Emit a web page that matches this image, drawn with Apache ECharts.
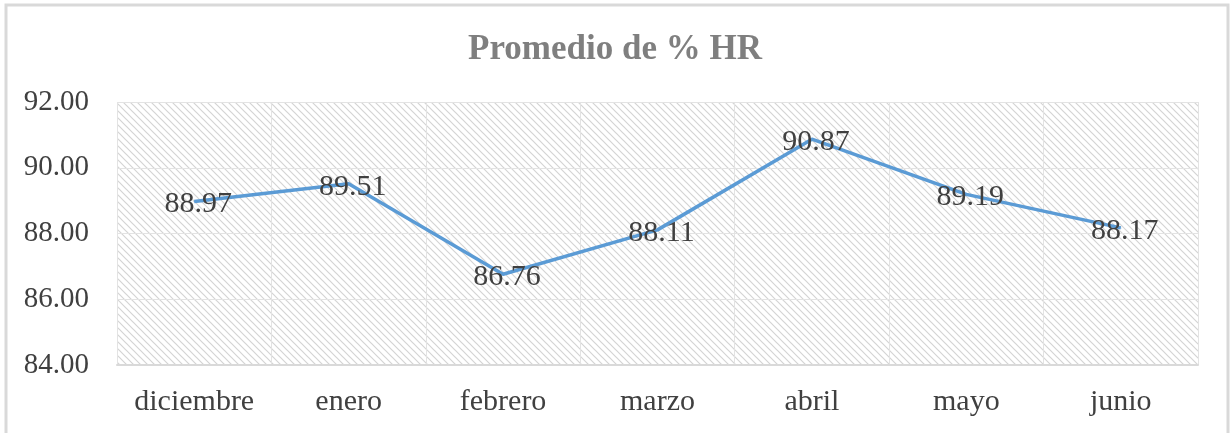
<!DOCTYPE html>
<html>
<head>
<meta charset="utf-8">
<script src="https://cdn.jsdelivr.net/npm/echarts@6/dist/echarts.min.js"></script>
<style>
  html, body { margin: 0; padding: 0; background: #fff; }
  #chart { width: 1230px; height: 433px; }
</style>
</head>
<body>
<div id="chart"></div>
<script>
  const months = ['diciembre', 'enero', 'febrero', 'marzo', 'abril', 'mayo', 'junio']
  const hrValues = [88.97, 89.51, 86.76, 88.11, 90.87, 89.19, 88.17]
  const yTicks = [84, 86, 88, 90, 92]

  // trama diagonal del fondo del área de trazado
  const makeHatch = () => {
    const c = document.createElement('canvas')
    c.width = 7
    c.height = 7
    const ctx = c.getContext('2d')
    ctx.fillStyle = '#ffffff'
    ctx.fillRect(0, 0, 7, 7)
    ctx.strokeStyle = '#d4d4d4'
    ctx.lineWidth = 1.2
    ctx.beginPath()
    ctx.moveTo(-1, -1)
    ctx.lineTo(8, 8)
    ctx.moveTo(-1, 6)
    ctx.lineTo(1, 8)
    ctx.moveTo(6, -1)
    ctx.lineTo(8, 1)
    ctx.stroke()
    return c
  }

  const chart = echarts.init(document.getElementById('chart'))
  const serif = '"Liberation Serif", "DejaVu Serif", serif'

  const option = {
    backgroundColor: '#fff',
    animation: false,
    textStyle: { fontFamily: serif },
    title: {
      text: 'Promedio de % HR',
      left: 'center',
      top: 27,
      textStyle: { fontFamily: serif, fontSize: 35, fontWeight: 'bold', color: '#7f7f7f' }
    },
    graphic: [
      {
        type: 'polyline',
        shape: { points: [[6, 433], [6, 5], [1228, 5], [1228, 433]] },
        style: { stroke: '#d9d9d9', lineWidth: 3, fill: null }
      }
    ],
    grid: {
      left: 117,
      right: 32,
      top: 102,
      bottom: 68,
      show: true,
      borderWidth: 0,
      backgroundColor: { image: makeHatch(), repeat: 'repeat' }
    },
    xAxis: {
      type: 'category',
      data: months,
      boundaryGap: true,
      axisLine: { lineStyle: { color: '#d9d9d9', width: 2 } },
      axisTick: { show: false, interval: 0 },
      axisLabel: { interval: 0, fontSize: 30, color: '#404040', margin: 22, fontFamily: serif },
      splitLine: { show: true, interval: 0, lineStyle: { color: '#e3e3e3', width: 1 } }
    },
    yAxis: {
      type: 'value',
      min: yTicks[0],
      max: yTicks[yTicks.length - 1],
      interval: 2,
      axisLine: { show: false },
      axisTick: { show: false },
      axisLabel: {
        fontSize: 29,
        color: '#404040',
        margin: 28,
        fontFamily: serif,
        formatter: (v) => v.toFixed(2)
      },
      splitLine: { lineStyle: { color: '#e3e3e3', width: 1 } }
    },
    series: [
      {
        name: 'Promedio de % HR',
        type: 'line',
        data: hrValues,
        showSymbol: true,
        symbol: 'circle',
        symbolSize: 1,
        lineStyle: { color: '#5b9bd5', width: 3.5 },
        itemStyle: { color: '#5b9bd5' },
        label: {
          show: true,
          position: 'inside',
          offset: [4, 3],
          fontSize: 30,
          color: '#404040',
          fontFamily: serif,
          formatter: (p) => p.value.toFixed(2)
        }
      }
    ]
  }

  chart.setOption(option)
  window.onresize = () => {
    chart.resize()
  }
</script>
</body>
</html>
